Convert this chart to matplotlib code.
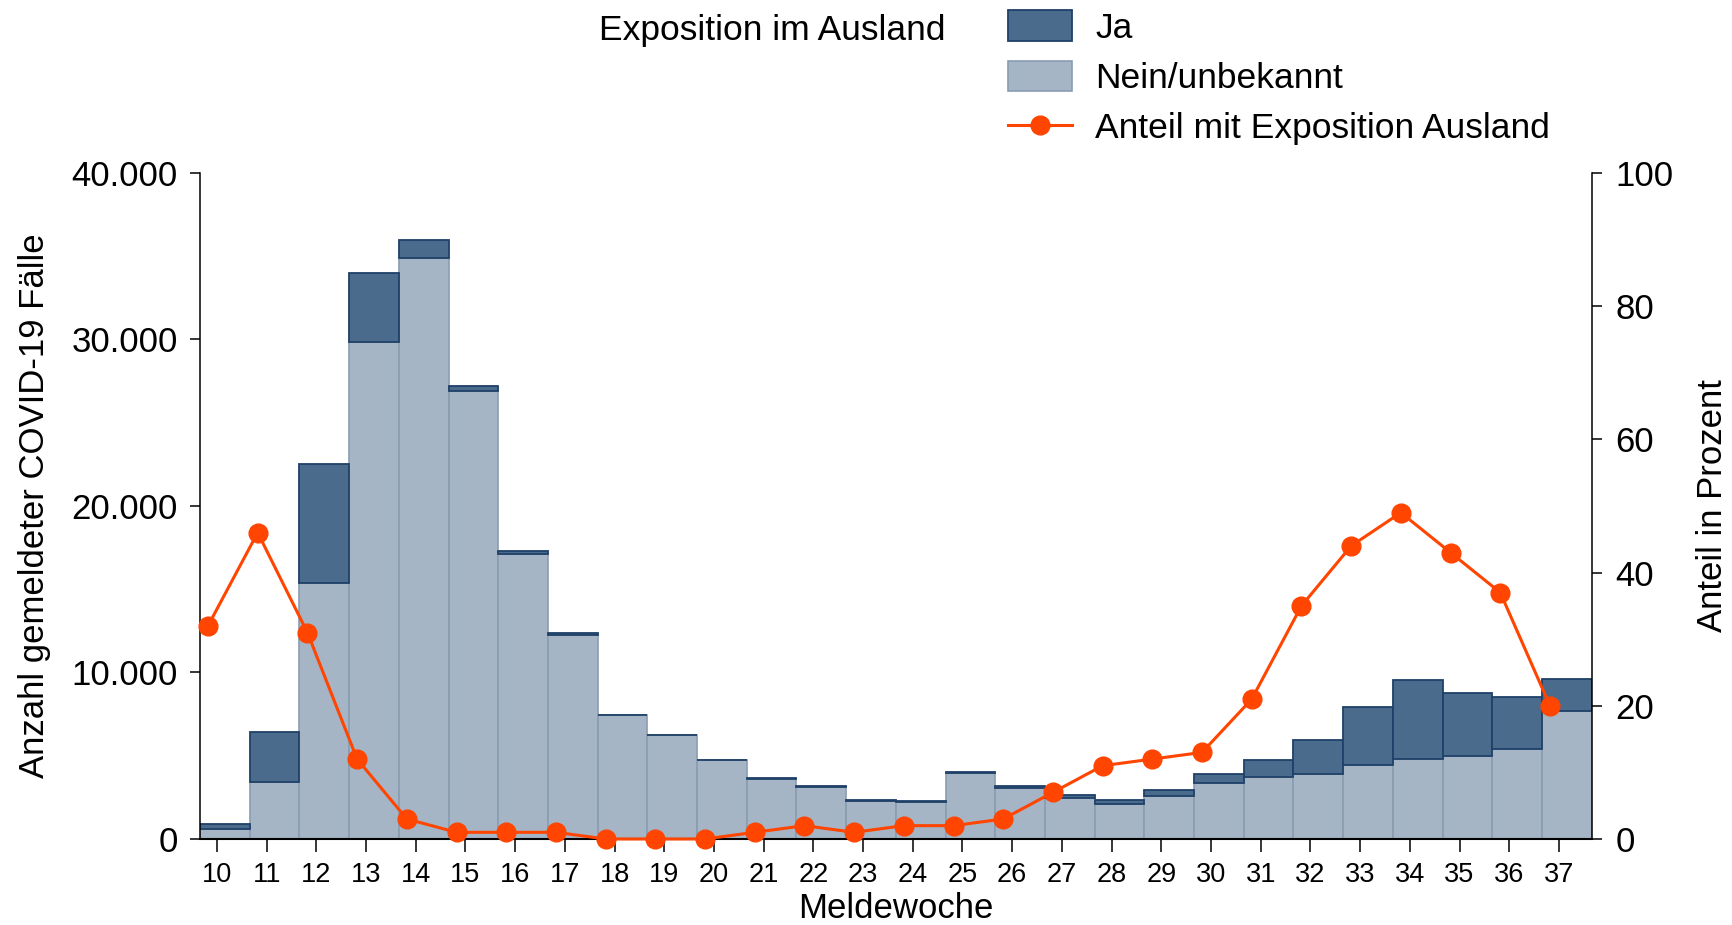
import matplotlib.pyplot as plt
from matplotlib.patches import Patch
from matplotlib.lines import Line2D

plt.rcParams['font.family'] = ['Liberation Sans', 'DejaVu Sans']

weeks = list(range(10, 38))
ja = [300, 3000, 7100, 4120, 1110, 300, 170, 120, 20, 0, 0, 40, 60, 25,
      45, 80, 95, 185, 240, 340, 510, 1000, 2050, 3480, 4710, 3770, 3150, 1930]
nein = [600, 3440, 15400, 29860, 34870, 26880, 17130, 12240, 7420, 6220, 4740, 3620, 3140, 2295,
        2225, 3940, 3065, 2465, 2110, 2610, 3390, 3740, 3920, 4420, 4820, 4990, 5390, 7660]
anteil = [32, 46, 31, 12, 3, 1, 1, 1, 0, 0, 0, 1, 2, 1,
          2, 2, 3, 7, 11, 12, 13, 21, 35, 44, 49, 43, 37, 20]

y_ticks = [0, 10000, 20000, 30000, 40000]
y_tick_labels = ['0', '10.000', '20.000', '30.000', '40.000']
pct_ticks = [0, 20, 40, 60, 80, 100]

ja_color, ja_edge = '#4a6b8c', '#1f4068'
nein_color, nein_edge = '#a5b5c5', '#8a9db1'
line_color = '#ff4500'

fig = plt.figure(figsize=(17.32, 9.25), dpi=100)
ax = fig.add_axes([0.1155, 0.093, 0.8035, 0.72])

ax.bar(weeks, nein, width=1, color=nein_color, edgecolor=nein_edge, linewidth=1.2)
ax.bar(weeks, ja, width=1, bottom=nein, color=ja_color, edgecolor=ja_edge, linewidth=1.3)

ax.set_xlim(9.5, 37.5)
ax.set_ylim(0, 40000)
ax.set_yticks(y_ticks)
ax.set_yticklabels(y_tick_labels)
ax.set_xticks([w - 0.16 for w in weeks])
ax.set_xticklabels([str(w) for w in weeks])
ax.tick_params(axis='y', labelsize=25, length=7, width=1.1, pad=9)
ax.tick_params(axis='x', labelsize=19.5, length=9.5, width=1.1, pad=7)
ax.set_xlabel('Meldewoche', fontsize=25, labelpad=3)
ax.set_ylabel('Anzahl gemeldeter COVID-19 Fälle', fontsize=25, labelpad=15)
for s in ['top', 'right']:
    ax.spines[s].set_visible(False)
ax.spines['left'].set_linewidth(1.1)
ax.spines['bottom'].set_linewidth(1.5)

ax2 = ax.twinx()
ax2.plot([w - 0.34 for w in weeks], anteil, color=line_color, linewidth=2.2,
         marker='o', markersize=13.5, clip_on=False, zorder=5)
ax2.set_ylim(0, 100)
ax2.set_yticks(pct_ticks)
ax2.tick_params(axis='y', labelsize=25, length=7, width=1.1, pad=10)
ax2.set_ylabel('Anteil in Prozent', fontsize=25, labelpad=16)
for s in ['top', 'left', 'bottom']:
    ax2.spines[s].set_visible(False)
ax2.spines['right'].set_linewidth(1.1)

handles = [
    Patch(facecolor=ja_color, edgecolor=ja_edge, linewidth=1.3),
    Patch(facecolor=nein_color, edgecolor=nein_edge, linewidth=1.2),
    Line2D([], [], color=line_color, linewidth=2.2, marker='o', markersize=13.5),
]
labels = ['Ja', 'Nein/unbekannt', 'Anteil mit Exposition Ausland']
fig.legend(handles, labels, loc='upper left', bbox_to_anchor=(0.582, 0.989),
           frameon=False, fontsize=25.5, borderpad=0, borderaxespad=0,
           handlelength=1.82, handleheight=0.95, handletextpad=0.64, labelspacing=0.45)
fig.text(0.346, 0.967, 'Exposition im Ausland', fontsize=25.5, va='center', ha='left')

plt.savefig('out.png', dpi=100)
